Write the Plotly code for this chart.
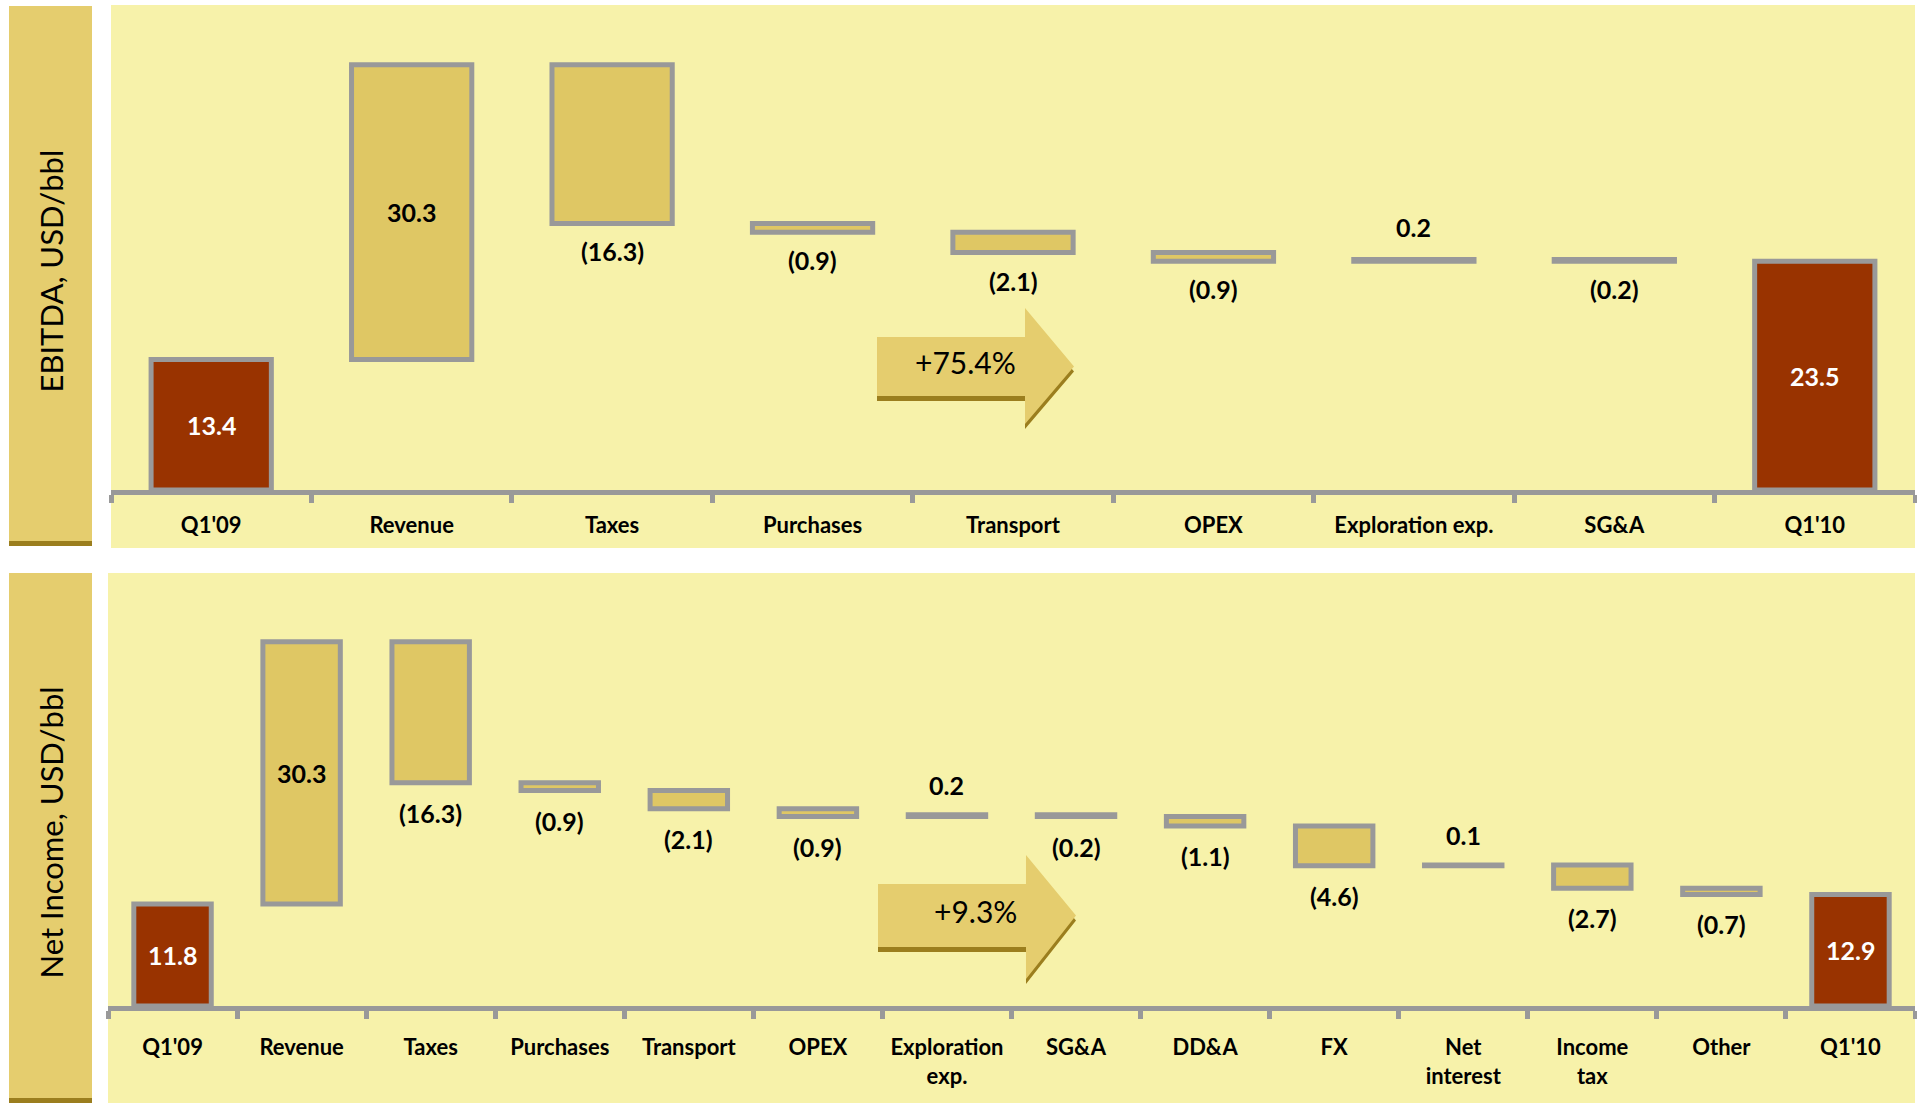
import plotly.graph_objects as go

W, H = 1917, 1103

# ---- data -------------------------------------------------------------
ebitda_cats = ["Q1'09", "Revenue", "Taxes", "Purchases", "Transport", "OPEX",
               "Exploration exp.", "SG&A", "Q1'10"]
ebitda_ticks = ["Q1'09", "Revenue", "Taxes", "Purchases", "Transport", "OPEX",
                "Exploration exp.", "SG&A", "Q1'10"]
ebitda_vals = [13.4, 30.3, -16.3, -0.9, -2.1, -0.9, 0.2, -0.2, 23.5]
ebitda_change = "+75.4%"

ni_cats = ["Q1'09", "Revenue", "Taxes", "Purchases", "Transport", "OPEX",
           "Exploration exp.", "SG&A", "DD&A", "FX", "Net interest",
           "Income tax", "Other", "Q1'10"]
ni_ticks = ["Q1'09", "Revenue", "Taxes", "Purchases", "Transport", "OPEX",
            "Exploration<br>exp.", "SG&A", "DD&A", "FX", "Net<br>interest",
            "Income<br>tax", "Other", "Q1'10"]
ni_vals = [11.8, 30.3, -16.3, -0.9, -2.1, -0.9, 0.2, -0.2, -1.1, -4.6, 0.1,
           -2.7, -0.7, 12.9]
ni_change = "+9.3%"

# ---- style ------------------------------------------------------------
FONT = "Lato"
BG = "#F7F2AA"
SIDE = "#E5CD6E"
SHADOW = "#9B7E1E"
STEP = "#DFC764"
TOTAL = "#993300"
EDGE = "#999999"


def px_x(p):
    return p / W


def px_y(p):
    return 1 - p / H


def fmt(v):
    return f"({abs(v):.1f})" if v < 0 else f"{v:.1f}"


def waterfall(vals):
    bases, heights, colors = [], [], []
    run = 0.0
    last = len(vals) - 1
    for i, v in enumerate(vals):
        if i == 0 or i == last:
            bases.append(0.0)
            heights.append(v)
            colors.append(TOTAL)
            run = v
        else:
            end = run + v
            bases.append(min(run, end))
            heights.append(abs(v))
            colors.append(STEP)
            run = end
    return bases, heights, colors


fig = go.Figure()
annotations = []
shapes = []

panels = [
    dict(cats=ebitda_cats, ticks=ebitda_ticks, vals=ebitda_vals, xa="x", ya="y",
         xdom=(111, 1915), axis_px=490, top_px=5, ppu=9.73,
         standoff=12, below=28, above=32, title="EBITDA, USD/bbl",
         side=(9, 92, 6, 546), bg=(111, 1915, 5, 548), change=ebitda_change,
         arrow=(877, 1025, 337, 396, 308, 424, 1074), text_x=966),
    dict(cats=ni_cats, ticks=ni_ticks, vals=ni_vals, xa="x2", ya="y2",
         xdom=(108, 1915), axis_px=1006, top_px=573, ppu=8.65,
         standoff=18, below=30, above=30, title="Net Income, USD/bbl",
         side=(9, 92, 573, 1103), bg=(108, 1915, 573, 1103), change=ni_change,
         arrow=(878, 1026, 884, 947, 855, 979, 1076), text_x=976),
]

layout_axes = {}
for k, p in enumerate(panels):
    bases, heights, colors = waterfall(p["vals"])
    fig.add_trace(go.Bar(
        x=p["cats"], y=heights, base=bases, width=0.6,
        marker=dict(color=colors, line=dict(color=EDGE, width=5)),
        xaxis=p["xa"], yaxis=p["ya"], hoverinfo="skip", showlegend=False,
    ))

    # value labels
    last = len(p["vals"]) - 1
    for i, (c, v, b, h) in enumerate(zip(p["cats"], p["vals"], bases, heights)):
        if i == 0 or i == last:
            y, shift, col = b + h / 2, 0, "white"
        elif i == 1:
            y, shift, col = b + h / 2, 0, "black"
        elif v < 0:
            y, shift, col = b, -p["below"], "black"
        else:
            y, shift, col = b + h, p["above"], "black"
        annotations.append(dict(
            x=c, y=y, xref=p["xa"], yref=p["ya"], text=fmt(v), showarrow=False,
            xanchor="center", yanchor="middle", yshift=shift,
            font=dict(family=FONT, size=25, color=col, weight="bold"),
        ))

    # axes
    span_units = (p["axis_px"] - p["top_px"]) / p["ppu"]
    xkey = "xaxis" if k == 0 else "xaxis2"
    ykey = "yaxis" if k == 0 else "yaxis2"
    layout_axes[xkey] = dict(
        domain=[px_x(p["xdom"][0]), px_x(p["xdom"][1])],
        anchor=p["ya"], type="category",
        categoryorder="array", categoryarray=p["cats"],
        tickmode="array", tickvals=p["cats"], ticktext=p["ticks"],
        showline=True, linecolor=EDGE, linewidth=5,
        ticks="outside", tickson="boundaries", ticklen=8, tickwidth=5,
        tickcolor=EDGE, ticklabelstandoff=p["standoff"],
        tickfont=dict(family=FONT, size=22, color="black", weight="bold"),
        showgrid=False, zeroline=False, fixedrange=True,
    )
    layout_axes[ykey] = dict(
        domain=[px_y(p["axis_px"]), px_y(p["top_px"])],
        anchor=p["xa"], range=[0, span_units], visible=False,
        showgrid=False, zeroline=False, fixedrange=True,
    )

    # panel backgrounds
    x0, x1, y0, y1 = p["bg"]
    shapes.append(dict(type="rect", xref="paper", yref="paper", layer="below",
                       x0=px_x(x0), x1=px_x(x1), y0=px_y(y1), y1=px_y(y0),
                       fillcolor=BG, line=dict(width=0)))
    sx0, sx1, sy0, sy1 = p["side"]
    shapes.append(dict(type="rect", xref="paper", yref="paper", layer="below",
                       x0=px_x(sx0), x1=px_x(sx1), y0=px_y(sy1), y1=px_y(sy0),
                       fillcolor=SIDE, line=dict(width=0)))
    shapes.append(dict(type="rect", xref="paper", yref="paper", layer="below",
                       x0=px_x(sx0), x1=px_x(sx1), y0=px_y(sy1), y1=px_y(sy1 - 5),
                       fillcolor=SHADOW, line=dict(width=0)))
    annotations.append(dict(
        x=px_x((sx0 + sx1) / 2), y=px_y((sy0 + sy1) / 2 - 5), xref="paper", yref="paper",
        xanchor="center", yanchor="middle",
        text=p["title"], textangle=-90, showarrow=False,
        font=dict(family=FONT, size=31, color="black"),
    ))

    # growth arrow with a drop shadow
    ax0, ax1, bt, bb, ht, hb, tip = p["arrow"]
    mid = (bt + bb) / 2

    def arrow_path(dy):
        pts = [(ax0, bt), (ax1, bt), (ax1, ht), (tip, mid), (ax1, hb), (ax1, bb), (ax0, bb)]
        return "M " + " L ".join(f"{px_x(a):.5f},{px_y(b + dy):.5f}" for a, b in pts) + " Z"

    shapes.append(dict(type="path", xref="paper", yref="paper", path=arrow_path(5),
                       fillcolor=SHADOW, line=dict(width=0), layer="above"))
    shapes.append(dict(type="path", xref="paper", yref="paper", path=arrow_path(0),
                       fillcolor="#E5CD6E", line=dict(width=0), layer="above"))
    annotations.append(dict(
        x=px_x(p["text_x"]), y=px_y(mid - 5), xref="paper", yref="paper",
        xanchor="center", yanchor="middle",
        text=p["change"], showarrow=False,
        font=dict(family=FONT, size=30, color="black"),
    ))

fig.update_layout(
    width=W, height=H,
    margin=dict(l=0, r=0, t=0, b=0),
    paper_bgcolor="white", plot_bgcolor="rgba(0,0,0,0)",
    bargap=0.4, showlegend=False,
    shapes=shapes, annotations=annotations,
    **layout_axes,
)

fig.write_html("out.html")
